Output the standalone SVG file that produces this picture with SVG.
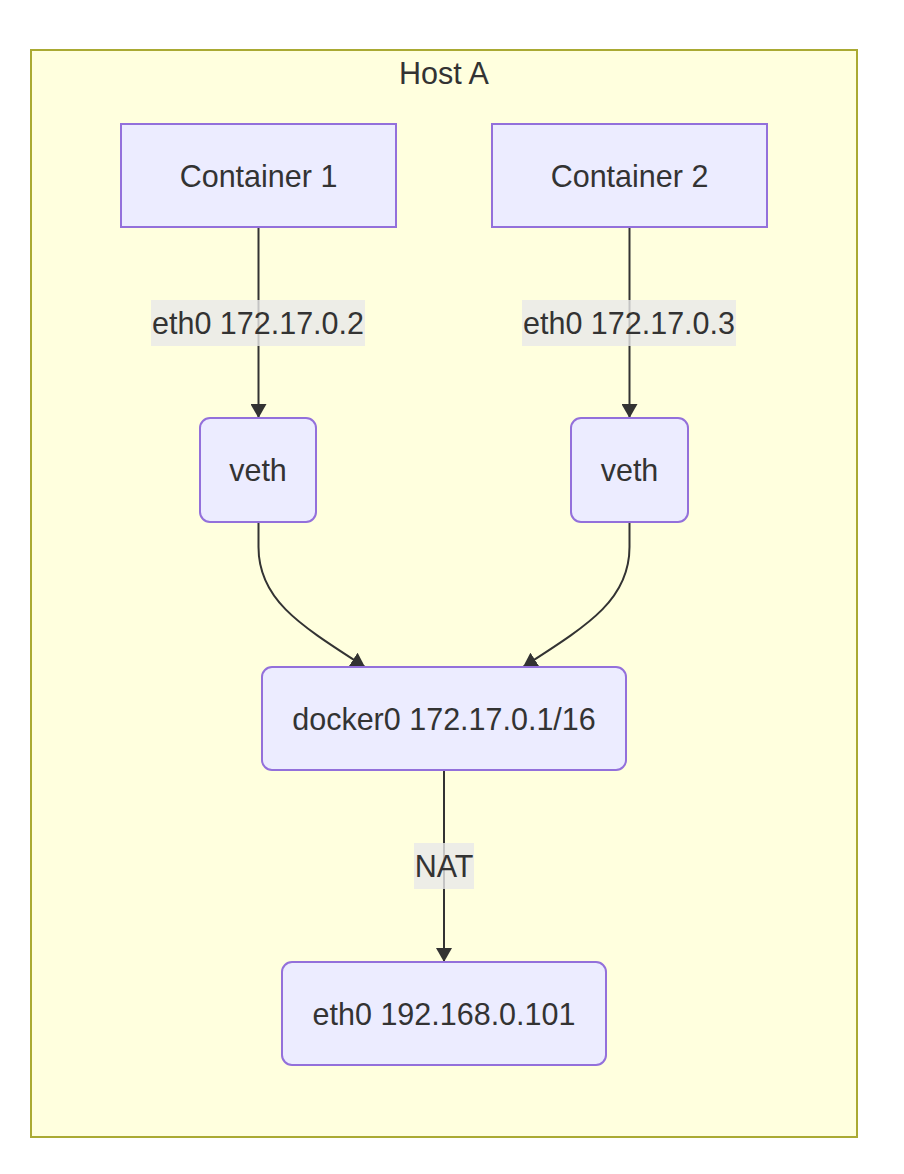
<svg xmlns="http://www.w3.org/2000/svg" width="904" height="1174" viewBox="0 0 904 1174">
<style>
.cluster{fill:#ffffde;stroke:#aaaa33;stroke-width:2}
.node{fill:#ececff;stroke:#9370db;stroke-width:2}
.t{font-family:"Liberation Sans",Arial,Helvetica,sans-serif;font-size:30.5px;fill:#333333;text-anchor:middle}
.edge{fill:none;stroke:#333333;stroke-width:2}
.lbl{fill:#e8e8e8;fill-opacity:0.8}
</style>
<defs>
<marker id="arrow" viewBox="0 0 14 16" refX="14" refY="8" markerUnits="userSpaceOnUse" markerWidth="14" markerHeight="16" orient="auto">
<path d="M0,0 L14,8 L0,16 z" fill="#333333"/>
</marker>
</defs>
<rect width="904" height="1174" fill="#ffffff"/>
<g id="hostA">
<rect class="cluster" x="31" y="50" width="826" height="1087"/>
<text class="t" x="444" y="84">Host A</text>
</g>
<g id="edges">
<path class="edge" d="M258.5,227 L258.5,418" marker-end="url(#arrow)"/>
<path class="edge" d="M629.5,227 L629.5,418" marker-end="url(#arrow)"/>
<path class="edge" d="M258.5,522 L258.5,547 C258.5,600 300,625 365,667" marker-end="url(#arrow)"/>
<path class="edge" d="M629.5,522 L629.5,547 C629.5,600 588,625 523,667" marker-end="url(#arrow)"/>
<path class="edge" d="M444,770 L444,962" marker-end="url(#arrow)"/>
<g id="label1"><rect class="lbl" x="151" y="300" width="214" height="46"/><text class="t" x="258" y="334">eth0 172.17.0.2</text></g>
<g id="label2"><rect class="lbl" x="522" y="300" width="214" height="46"/><text class="t" x="629" y="334">eth0 172.17.0.3</text></g>
<g id="label3"><rect class="lbl" x="414" y="843" width="60" height="46"/><text class="t" x="444" y="877">NAT</text></g>
</g>
<g id="container1">
<rect class="node" x="121" y="124" width="275" height="103"/>
<text class="t" x="258.5" y="186.5">Container 1</text>
</g>
<g id="container2">
<rect class="node" x="492" y="124" width="275" height="103"/>
<text class="t" x="629.5" y="186.5">Container 2</text>
</g>
<g id="veth1">
<rect class="node" x="200" y="418" width="116" height="104" rx="10" ry="10"/>
<text class="t" x="258" y="481">veth</text>
</g>
<g id="veth2">
<rect class="node" x="571" y="418" width="117" height="104" rx="10" ry="10"/>
<text class="t" x="629.5" y="481">veth</text>
</g>
<g id="docker0">
<rect class="node" x="262" y="667" width="364" height="103" rx="10" ry="10"/>
<text class="t" x="444" y="729.5">docker0 172.17.0.1/16</text>
</g>
<g id="eth0host">
<rect class="node" x="282" y="962" width="324" height="103" rx="10" ry="10"/>
<text class="t" x="444" y="1024.5">eth0 192.168.0.101</text>
</g>
</svg>
